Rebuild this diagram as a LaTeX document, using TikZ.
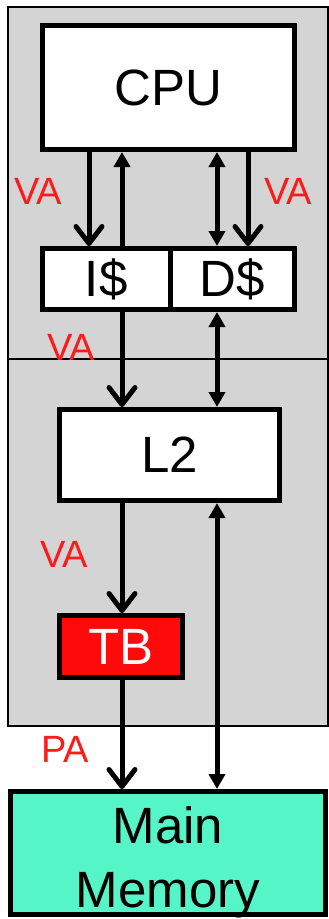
\documentclass[tikz,border=0pt]{standalone}
\usepackage{fontspec}
\setmainfont{Liberation Sans}
\usetikzlibrary{arrows.meta}

\definecolor{shade}{HTML}{D4D4D4}
\definecolor{tbred}{HTML}{FF0A0A}
\definecolor{memgreen}{HTML}{55F5C8}
\definecolor{addrred}{HTML}{FF1A1A}

\tikzset{
    unit/.style={draw, line width=5pt, fill=white, inner sep=0pt, font=\fontsize{51}{64}\selectfont},
    addr/.style={text=addrred, inner sep=0pt, font=\fontsize{38}{40}\selectfont},
    req/.style={line width=5pt, -{Straight Barb[length=17pt,width=26pt,line cap=round,line join=round]}},
    back/.style={line width=5pt, -{Triangle[length=15pt,width=16pt]}},
    bus/.style={line width=5pt, {Triangle[length=15pt,width=16pt]}-{Triangle[length=15pt,width=16pt]}}
}

\begin{document}
\begin{tikzpicture}[x=1pt,y=-1pt]
            \useasboundingbox (0,0) rectangle (329,919);

            % Draw the shaded regions
            \draw[line width=1.5pt, fill=shade] (8,7) rectangle (328,359);
            \draw[line width=1.5pt, fill=shade] (8,359) rectangle (328,726);

            % Place the units
            \node[unit, minimum width=252pt, minimum height=124pt] (cpu) at (168.5,87.5) {CPU};
            \node[unit, minimum width=127.5pt, minimum height=61pt] (icache) at (106.25,279) {I\$};
            \node[unit, minimum width=124.5pt, minimum height=61pt] (dcache) at (232.25,279) {D\$};
            \node[unit, minimum width=220pt, minimum height=91pt] (ltwo) at (169.5,455) {L2};
            \node[unit, fill=tbred, text=white, minimum width=123pt, minimum height=62pt] (tb) at (121,646.5) {TB};
            \node[unit, fill=memgreen, align=center, text height=108pt, text depth=0pt,
                  minimum width=315pt, minimum height=123pt] (mem) at (168,853) {Main\\Memory};

            % Columns of the connectors
            \coordinate (colA) at (89,0);
            \coordinate (colB) at (122,0);
            \coordinate (colC) at (217,0);
            \coordinate (colD) at (248,0);

            % Draw the connectors
            \draw[req] (cpu.south -| colA) -- (icache.north -| colA);
            \draw[back] (icache.north -| colB) -- (cpu.south -| colB);
            \draw[bus] (cpu.south -| colC) -- (dcache.north -| colC);
            \draw[req] (cpu.south -| colD) -- (dcache.north -| colD);
            \draw[req] (icache.south -| colB) -- (ltwo.north -| colB);
            \draw[bus] (dcache.south -| colC) -- (ltwo.north -| colC);
            \draw[req] (ltwo.south -| colB) -- (tb.north -| colB);
            \draw[bus] (ltwo.south -| colC) -- (mem.north -| colC);
            \draw[req] (tb.south -| colB) -- (mem.north -| colB);

            % Address labels
            \node[addr] (vaI) at (38,191) {VA};
            \node[addr] (vaD) at (288,191) {VA};
            \node[addr] (vaL) at (71,347) {VA};
            \node[addr] (vaT) at (64,554) {VA};
            \node[addr] (pa) at (65,749) {PA};
\end{tikzpicture}
\end{document}
